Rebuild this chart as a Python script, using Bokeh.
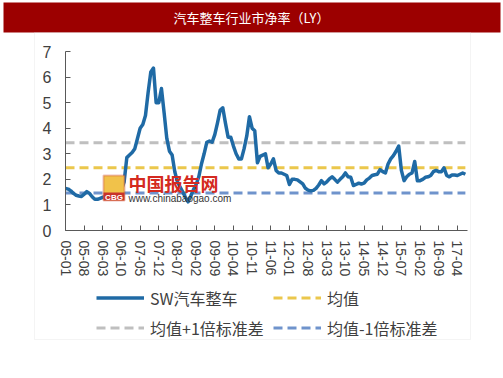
from bokeh.plotting import figure
from bokeh.models import (Range1d, FixedTicker, BoxAnnotation, Label, Legend,
                          LegendItem, LinearAxis)
from bokeh.embed import file_html
from bokeh.resources import INLINE

# ---------------- data ----------------
title_text = "汽车整车行业市净率（LY）"
series_name = "SW汽车整车"
mean_name = "均值"
upper_name = "均值+1倍标准差"
lower_name = "均值-1倍标准差"

# monthly P/B values, 2005-01 .. 2017-07
pb_values = [
    1.65, 1.62, 1.55, 1.45, 1.38, 1.35, 1.33, 1.42, 1.52, 1.45, 1.32, 1.22,   # 2005
    1.22, 1.26, 1.30, 1.35, 1.42, 1.46, 1.48, 1.50, 1.50, 1.60, 1.90, 2.85,   # 2006
    2.95, 3.05, 3.20, 3.60, 4.00, 4.15, 4.50, 5.40, 6.20, 6.35, 5.00, 5.00,   # 2007
    5.55, 4.60, 3.60, 3.10, 2.95, 2.30, 1.90, 1.70, 1.50, 1.30, 1.12, 1.35,   # 2008
    1.60, 1.80, 2.10, 2.60, 3.00, 3.45, 3.50, 3.45, 3.75, 4.20, 4.70, 4.80,   # 2009
    4.20, 3.65, 3.65, 3.30, 3.00, 2.80, 2.80, 3.20, 3.70, 4.45, 4.00, 3.90,   # 2010
    2.65, 2.90, 2.95, 3.00, 2.45, 2.60, 2.80, 2.35, 2.25, 2.25, 2.20, 2.15,   # 2011
    1.80, 2.00, 2.00, 1.98, 1.90, 1.82, 1.65, 1.58, 1.55, 1.57, 1.65, 1.78,   # 2012
    1.95, 1.82, 1.90, 2.02, 2.10, 2.00, 1.89, 2.00, 2.10, 2.25, 2.10, 2.08,   # 2013
    1.76, 1.80, 1.85, 1.82, 1.85, 1.98, 2.05, 2.15, 2.18, 2.20, 2.38, 2.30,   # 2014
    2.25, 2.60, 2.80, 2.93, 3.10, 3.30, 2.35, 1.95, 2.10, 2.20, 2.25, 2.70,   # 2015
    1.95, 1.95, 2.00, 2.08, 2.10, 2.15, 2.30, 2.35, 2.30, 2.30, 2.45, 2.15,   # 2016
    2.10, 2.17, 2.17, 2.15, 2.20, 2.25, 2.20,                                 # 2017
]
mean_value = 2.45
upper_value = 3.43
lower_value = 1.47

tick_labels = ["05-01", "05-08", "06-03", "06-10", "07-05", "07-12", "08-07",
               "09-02", "09-09", "10-04", "10-11", "11-06", "12-01", "12-08",
               "13-03", "13-10", "14-05", "14-12", "15-07", "16-02", "16-09",
               "17-04"]
y_ticks = [0, 1, 2, 3, 4, 5, 6, 7]

# ---------------- layout constants ----------------
W, H = 503, 378
FL, FR, FT, FB = 65, 467, 51, 230          # plot-area edges in canvas px
X_END = 150.8
Y_END = 7

months = list(range(len(pb_values)))
tick_pos = [i * 7 for i in range(len(tick_labels))]
tick_pos = [t for t in tick_pos if t <= X_END]
tick_labels = tick_labels[:len(tick_pos)]

pxm = (FR - FL) / X_END
pyv = (FB - FT) / Y_END


def dx(X):
    return (X - FL) / pxm


def dy(Y):
    return (FB - Y) / pyv


BLUE = "#1f6aa5"
YELLOW = "#ebc74c"
GRAY = "#bfbfbf"
LBLUE = "#6f93cc"
AXIS = "#595959"
CJK = "Noto Sans CJK SC"

p = figure(width=W, height=H, output_backend="svg", toolbar_location=None,
           x_range=Range1d(dx(0), dx(W)), y_range=Range1d(dy(H), dy(0)),
           x_axis_type=None, y_axis_type=None,
           min_border=0, min_border_left=0, min_border_right=0,
           min_border_top=0, min_border_bottom=0,
           background_fill_color="white", border_fill_color="white",
           title=None)
p.outline_line_color = None

# decorations: title bar and panel
p.add_layout(BoxAnnotation(left=dx(3), right=dx(500), top=dy(2), bottom=dy(32),
                           fill_color="#9c0000", fill_alpha=1, line_color=None,
                           level="underlay"))
p.add_layout(BoxAnnotation(left=dx(34), right=dx(470), top=dy(32), bottom=dy(339),
                           fill_alpha=0, line_color="#d9d9d9", line_width=1,
                           level="underlay"))
p.add_layout(Label(x=dx(251), y=dy(17), text=title_text, text_color="white",
                   text_font=CJK, text_font_size="13px", text_align="center",
                   text_baseline="middle"))

# series
r_main = p.line(months, pb_values, line_color=BLUE, line_width=3.5,
                line_join="round")
xs = [months[0], months[-1]]
r_up = p.line(xs, [upper_value] * 2, line_color=GRAY, line_width=3,
              line_dash="9 5")
r_mean = p.line(xs, [mean_value] * 2, line_color=YELLOW, line_width=3,
                line_dash="9 5")
r_low = p.line(xs, [lower_value] * 2, line_color=LBLUE, line_width=3,
               line_dash="9 5")
p.renderers.remove(r_main)
p.renderers.append(r_main)

# watermark
p.add_layout(BoxAnnotation(left=dx(103), right=dx(124), top=dy(175), bottom=dy(200),
                           fill_color="#f1c24a", fill_alpha=1, line_color="#c8322a",
                           line_width=2))
p.add_layout(BoxAnnotation(left=dx(103), right=dx(124), top=dy(192), bottom=dy(200),
                           fill_color="#c8322a", fill_alpha=1, line_color=None))
p.add_layout(Label(x=dx(113.5), y=dy(196.5), text="CBG", text_color="white",
                   text_font="Liberation Sans", text_font_size="8px",
                   text_font_style="bold", text_align="center",
                   text_baseline="middle"))
p.add_layout(Label(x=dx(128), y=dy(182.5), text="中国报告网", text_color="#d42a20",
                   text_font=CJK, text_font_size="18px", text_font_style="bold",
                   text_align="left", text_baseline="middle"))
p.add_layout(Label(x=dx(128), y=dy(197.5), text="www.chinabaogao.com",
                   text_color="#333333", text_font="Liberation Sans",
                   text_font_size="10px", text_align="left",
                   text_baseline="middle"))

# axes (fixed inside the canvas-wide frame)
xa = LinearAxis(fixed_location=0, bounds=(0, X_END),
                ticker=FixedTicker(ticks=tick_pos))
xa.major_label_overrides = {t: l for t, l in zip(tick_pos, tick_labels)}
xa.major_label_orientation = "vertical"
xa.minor_tick_line_color = None
xa.major_tick_in = 5
xa.major_tick_out = 0
xa.axis_line_color = AXIS
xa.major_tick_line_color = AXIS
xa.major_label_text_color = "#404040"
xa.major_label_text_font = "Liberation Sans"
xa.major_label_text_font_size = "14px"
xa.major_label_standoff = 10
p.add_layout(xa, "below")

ya = LinearAxis(fixed_location=0, bounds=(0, Y_END),
                ticker=FixedTicker(ticks=y_ticks))
ya.minor_tick_line_color = None
ya.major_tick_in = 5
ya.major_tick_out = 0
ya.axis_line_color = AXIS
ya.major_tick_line_color = AXIS
ya.major_label_text_color = "#404040"
ya.major_label_text_font = "Liberation Sans"
ya.major_label_text_font_size = "16px"
ya.major_label_standoff = 14
p.add_layout(ya, "left")

# legend (column-first: SW / +1σ in the first column, mean / -1σ in the second)
legend = Legend(items=[
    LegendItem(label=series_name, renderers=[r_main]),
    LegendItem(label=upper_name, renderers=[r_up]),
    LegendItem(label=mean_name, renderers=[r_mean]),
    LegendItem(label=lower_name, renderers=[r_low]),
], ncols=2, location=(96, H - 340), padding=0, margin=0,
    spacing=5, glyph_width=48, glyph_height=25, label_height=25,
    label_width=118, label_standoff=6, border_line_color=None,
    background_fill_alpha=0,
    label_text_font=CJK, label_text_font_size="16px",
    label_text_color="#404040")
p.add_layout(legend, "center")

open("out.html", "w").write(file_html(p, INLINE))
